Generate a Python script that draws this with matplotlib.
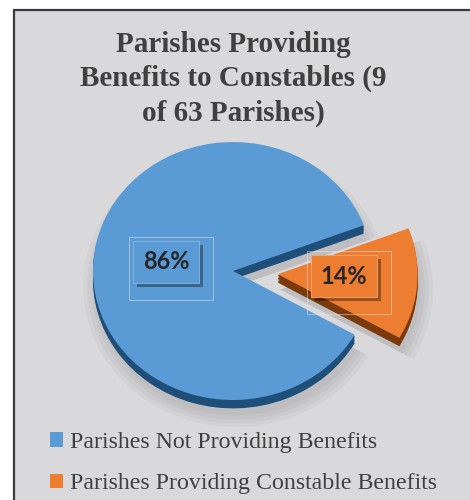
import matplotlib.pyplot as plt
import matplotlib.patheffects as pe
from matplotlib.patches import Rectangle

# data
categories = ["Parishes Not Providing Benefits", "Parishes Providing Constable Benefits"]
shares = [86, 14]
pct_labels = ["86%", "14%"]
title = "Parishes Providing\nBenefits to Constables (9\nof 63 Parishes)"

top_colors = ["#5b9bd5", "#ed7d31"]
side_colors = ["#1f4e79", "#7a3a0c"]
explode = [0, 0.32]
start = 20.8

W, H = 470, 500
fig = plt.figure(figsize=(W / 100, H / 100), dpi=100)
fig.patch.set_facecolor("white")

# panel background with border (top/left visible)
fig.patches.append(Rectangle((14 / W, -0.02), 1.05, (H - 10) / H + 0.02,
                             transform=fig.transFigure, facecolor="#d9d9db",
                             edgecolor="#3a3a3a", linewidth=1.6, zorder=-5))

fig.text(233 / W, 1 - 79 / H, title, ha="center", va="center",
         fontsize=21, fontweight="bold", family="Liberation Serif",
         color="#404040", linespacing=1.35)

# pie axes: center (233, 271) px, rx 140, ry 129
cx, cy, rx, ry = 233, 271, 140, 129
half_w, half_h = 200, 160
ax = fig.add_axes([(cx - half_w) / W, (H - cy - half_h) / H, 2 * half_w / W, 2 * half_h / H])
ax.patch.set_visible(False)

# soft shadow
for k in range(4):
    ax.pie(shares, explode=explode, startangle=start, colors=["#555555"] * 2,
           radius=1.0 + 0.03 * k, center=(0.02, -0.12),
           wedgeprops=dict(alpha=0.05, linewidth=0))

# 3D side
depth = 0.065
for d in [depth * i / 6 for i in range(6, 0, -1)]:
    ax.pie(shares, explode=explode, startangle=start, colors=side_colors,
           center=(0, -d), wedgeprops=dict(linewidth=0))

wedges, _, autotexts = ax.pie(shares, explode=explode, startangle=start,
                              colors=top_colors, autopct="%d%%",
                              wedgeprops=dict(linewidth=0))

label_pos = [(-0.479, 0.07), (0.793, -0.04)]
edge_cols = ["#8db6de", "#f2a774"]
fw, fh = 84 / rx, 63 / ry  # faint outer frame size
for t, pos, col, ec, lab in zip(autotexts, label_pos, top_colors, edge_cols, pct_labels):
    t.set_text(lab)
    t.set_position(pos)
    t.set_fontsize(17)
    t.set_fontweight("bold")
    t.set_family("Lato")
    t.set_color("#262626")
    t.set_bbox(dict(boxstyle="square,pad=0.4", facecolor=col, edgecolor=ec, linewidth=0.6))
    t.get_bbox_patch().set_path_effects([pe.withSimplePatchShadow(offset=(3, -3), shadow_rgbFace="black", alpha=0.35)])
    ox, oy = pos[0] + 0.036, pos[1] - 0.05
    ax.add_patch(Rectangle((ox - fw / 2, oy - fh / 2), fw, fh, facecolor="none",
                           edgecolor="#e6e6e6", linewidth=0.6, alpha=0.6, zorder=4))

ax.set_aspect("auto")
ax.set_xlim(-half_w / rx, half_w / rx)
ax.set_ylim(-half_h / ry, half_h / ry)
ax.axis("off")

leg = fig.legend(wedges, categories, loc="upper left",
                 bbox_to_anchor=(50 / W, 1 - 432 / H), frameon=False,
                 prop=dict(family="Liberation Serif", size=17.2),
                 handlelength=0.55, handleheight=0.55, handletextpad=0.3,
                 labelspacing=0.85, borderaxespad=0, borderpad=0)
for txt in leg.get_texts():
    txt.set_color("#404040")

fig.savefig("out.png", dpi=100, facecolor=fig.get_facecolor())
